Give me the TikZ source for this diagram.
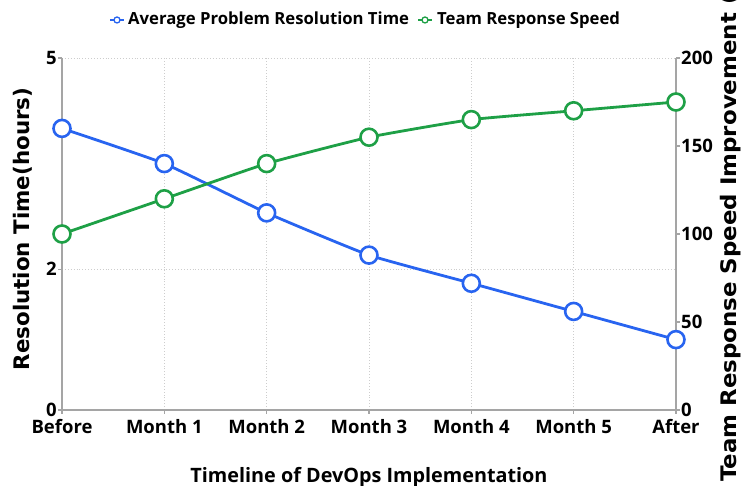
\documentclass[tikz,border=0pt]{standalone}
\usepackage{fontspec}
\setmainfont{Open Sans}
\newfontfamily\titlefont{DejaVu Sans}
\newfontfamily\widetitlefont[FakeStretch=1.07]{DejaVu Sans}
\usetikzlibrary{positioning}
\definecolor{lineblue}{RGB}{40,100,240}
\definecolor{linegreen}{RGB}{30,160,70}
\definecolor{axisgray}{RGB}{165,165,165}
\definecolor{gridgray}{RGB}{205,205,205}

\begin{document}
\begin{tikzpicture}[x=1pt, y=1pt,
    axisline/.style={axisgray, line width=1.2pt},
    gridline/.style={gridgray, dotted, line width=0.9pt},
    ticklabel/.style={font=\bfseries\fontsize{18.5}{18.5}\selectfont, inner sep=1pt},
    legendtext/.style={font=\bfseries\fontsize{16.7}{16.7}\selectfont, inner sep=0pt, anchor=west},
    axistitle/.style={font=\titlefont\bfseries\fontsize{21.4}{21.4}\selectfont, inner sep=0pt},
    series/.style={line width=2.8pt, line join=round},
    dot/.style={circle, draw=#1, fill=white, line width=2.6pt, minimum size=17pt, inner sep=0pt}
  ]
  \useasboundingbox (0,0) rectangle (744,486);

  % grid
  \foreach \i in {1,...,5}
    \draw[gridline] ({62+\i*102.33},76) -- ({62+\i*102.33},428);
  \foreach \v in {2,5}
    \draw[gridline] (62,{76+70.4*\v}) -- (676,{76+70.4*\v});

  % axes
  \draw[axisline] (62,428) -- (62,76) -- (676,76) -- (676,428);
  \foreach \v in {0,2,5} {
    \draw[axisline] (58,{76+70.4*\v}) -- (62,{76+70.4*\v});
    \node[ticklabel, anchor=east] (ly\v) at (58,{76+70.4*\v}) {\v};
  }
  \foreach \v in {0,50,...,200} {
    \draw[axisline] (676,{76+1.76*\v}) -- (680,{76+1.76*\v});
    \node[ticklabel, anchor=west] (ry\v) at (680,{76+1.76*\v}) {\v};
  }
  \foreach \t [count=\i from 0] in {Before,Month 1,Month 2,Month 3,Month 4,Month 5,After} {
    \draw[axisline] ({62+\i*102.33},76) -- ({62+\i*102.33},72);
    \node[ticklabel] (tx\i) at ({62+\i*102.33},59) {\t};
  }

  % titles
  \node[axistitle, rotate=90] (ltitle) at (23,257) {Resolution Time(hours)};
  \node[axistitle, font=\widetitlefont\bfseries\fontsize{21.4}{21.4}\selectfont, rotate=90, anchor=west] (rtitle) at (731,4) {Team Response Speed Improvement (\%)};
  \node[font=\bfseries\fontsize{19.8}{19.8}\selectfont] (xtitle) at (369,9) {Timeline of DevOps Implementation};

  % data points
  \foreach \v [count=\i from 0] in {4.0,3.5,2.8,2.2,1.8,1.4,1.0}
    \coordinate (b\i) at ({62+\i*102.33},{76+70.4*\v});
  \foreach \v [count=\i from 0] in {100,120,140,155,165,170,175}
    \coordinate (g\i) at ({62+\i*102.33},{76+1.76*\v});

  % series
  \draw[series, lineblue] plot[smooth, tension=0.25] coordinates {(b0) (b1) (b2) (b3) (b4) (b5) (b6)};
  \draw[series, linegreen] plot[smooth, tension=0.25] coordinates {(g0) (g1) (g2) (g3) (g4) (g5) (g6)};
  \foreach \i in {0,...,6} {
    \node[dot=lineblue] (bd\i) at (b\i) {};
    \node[dot=linegreen] (gd\i) at (g\i) {};
  }

  % legend
  \coordinate (lb1) at (110,466);
  \coordinate (lb2) at (124,466);
  \draw[lineblue, line width=1.4pt] (lb1) -- (lb2);
  \node[circle, draw=lineblue, fill=white, line width=1.3pt, minimum size=6pt, inner sep=0pt] (lbdot) at (117,466) {};
  \node[legendtext] (lbtext) at (128,466) {Average Problem Resolution Time};
  \coordinate (lg1) at (418,466);
  \coordinate (lg2) at (432,466);
  \draw[linegreen, line width=1.4pt] (lg1) -- (lg2);
  \node[circle, draw=linegreen, fill=white, line width=1.3pt, minimum size=6pt, inner sep=0pt] (lgdot) at (425,466) {};
  \node[legendtext] (lgtext) at (437,466) {Team Response Speed};
\end{tikzpicture}
\end{document}
